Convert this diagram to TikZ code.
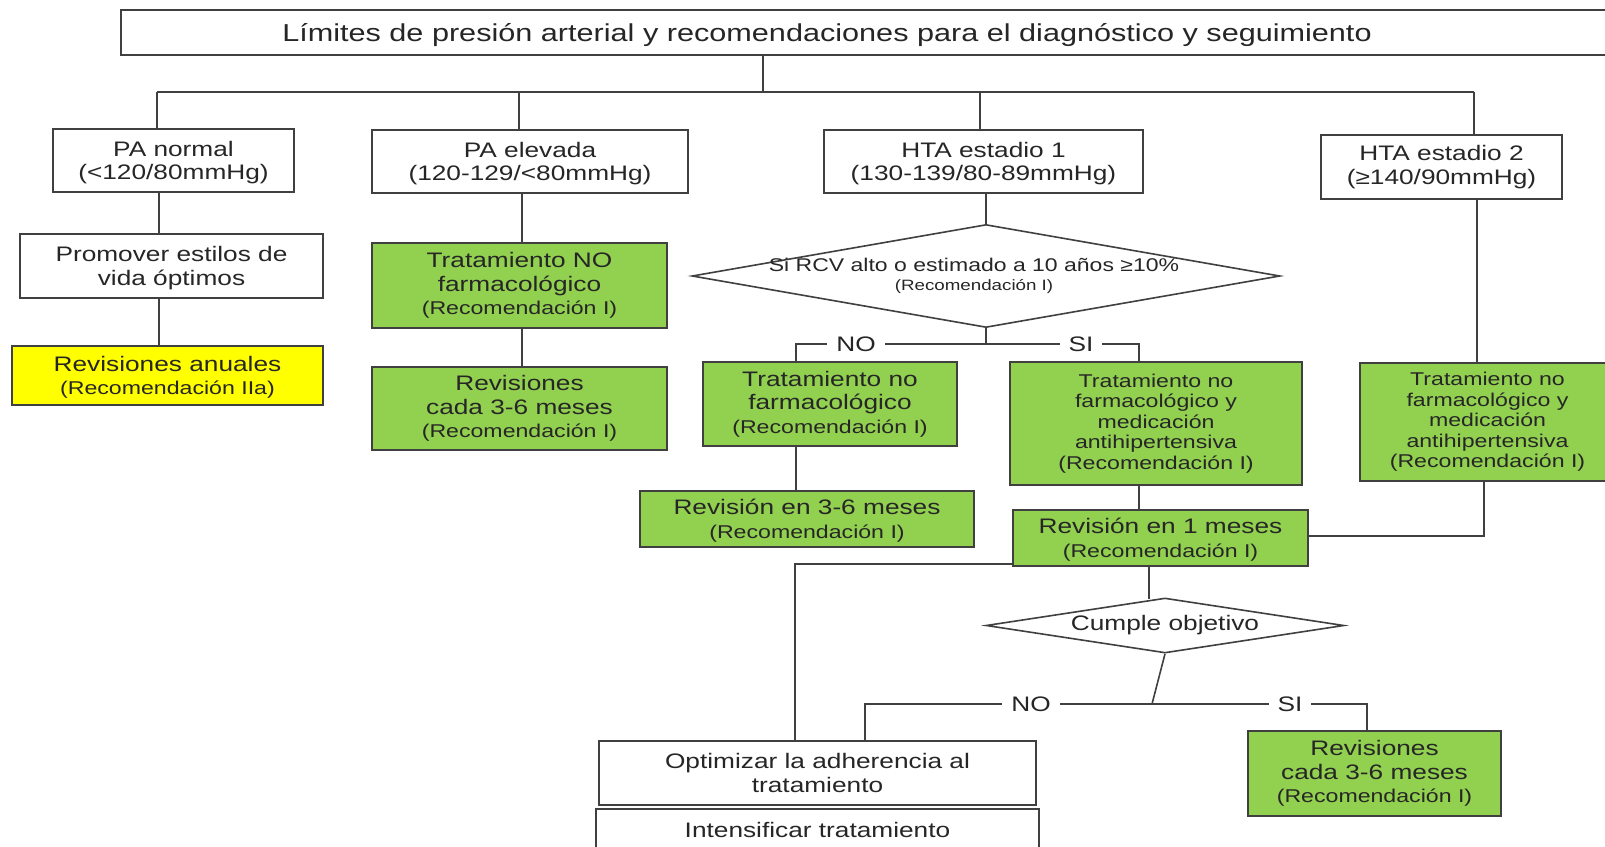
\documentclass[tikz,border=0pt]{standalone}
\usepackage{fontspec}
\setmainfont{Liberation Sans}[FakeStretch=1.25]
\usetikzlibrary{shapes.geometric}

\definecolor{boxgreen}{HTML}{92D050}
\definecolor{boxyellow}{HTML}{FFFF00}
\newcommand{\mainsize}{\fontsize{21}{23.5}\selectfont}
\newcommand{\midsize}{\fontsize{18.5}{20.5}\selectfont}
\newcommand{\recsize}{\fontsize{18.5}{21}\selectfont}

\begin{document}
\begin{tikzpicture}[x=1pt, y=-1pt,
    box/.style={draw=black!75, line width=1.6pt, fill=white, align=center, inner sep=0pt, text=black!85, font=\mainsize},
    gbox/.style={box, fill=boxgreen},
    ybox/.style={box, fill=boxyellow},
    lowtext/.style={text depth=-11pt},
    decision/.style={diamond, draw=black!75, line width=1.6pt, fill=white, inner sep=0pt},
    wire/.style={draw=black!75, line width=1.6pt},
    answer/.style={fill=white, inner xsep=9pt, inner ysep=1pt, text=black!85, font=\mainsize}]

    \useasboundingbox (0,0) rectangle (1605,846);

    % title
    \node[box, minimum width=1491, minimum height=45] (title) at (866.5,32.5) {};
    \node[text=black!85, font=\fontsize{24.5}{28}\selectfont] (titletext) at (827,35) {Límites de presión arterial y recomendaciones para el diagnóstico y seguimiento};

    % first row
    \node[box, lowtext, minimum width=241, minimum height=63] (normal) at (173.5,160.5) {PA normal\\(<120/80mmHg)};
    \node[box, lowtext, minimum width=316, minimum height=63] (elevada) at (530,161.5) {PA elevada\\(120-129/<80mmHg)};
    \node[box, lowtext, minimum width=319, minimum height=63] (hta1) at (983.5,161.5) {HTA estadio 1\\(130-139/80-89mmHg)};
    \node[box, minimum width=241, minimum height=64] (hta2) at (1441.5,167) {HTA estadio 2\\(≥140/90mmHg)};

    % PA normal / PA elevada
    \node[box, lowtext, minimum width=303, minimum height=64] (promover) at (171.5,266) {Promover estilos de\\vida óptimos};
    \node[ybox, lowtext, minimum width=311, minimum height=59] (anual) at (167.5,375.5) {Revisiones anuales\\{\recsize(Recomendación IIa)}};
    \node[gbox, minimum width=295, minimum height=85] (notrat) at (519.5,285.5) {Tratamiento NO\\farmacológico\\{\recsize(Recomendación I)}};
    \node[gbox, minimum width=295, minimum height=83] (rev36) at (519.5,408.5) {Revisiones\\cada 3-6 meses\\{\recsize(Recomendación I)}};

    % HTA estadio 1
    \node[decision, minimum width=588, minimum height=103,
        label={[align=center, text=black!85, font=\fontsize{18.4}{18.5}\selectfont, xshift=-12pt]center:Si RCV alto o estimado a 10 años ≥10\%\\{\fontsize{15}{18.5}\selectfont(Recomendación I)}}] (rcv) at (986,276) {};
    \node[gbox, minimum width=254, minimum height=84] (nofarm) at (830,404) {Tratamiento no\\farmacológico\\{\recsize(Recomendación I)}};
    \node[gbox, minimum width=292, minimum height=123, font=\midsize] (farmmed) at (1156,423.5) {Tratamiento no\\farmacológico y\\medicación\\antihipertensiva\\(Recomendación I)};
    \node[gbox, lowtext, minimum width=334, minimum height=56] (rev36b) at (807,519) {Revisión en 3-6 meses\\{\recsize(Recomendación I)}};
    \node[gbox, lowtext, minimum width=295, minimum height=56] (rev1) at (1160.5,538) {Revisión en 1 meses\\{\recsize(Recomendación I)}};

    % HTA estadio 2
    \node[gbox, minimum width=255, minimum height=118, font=\midsize] (farmmed2) at (1487.5,422) {Tratamiento no\\farmacológico y\\medicación\\antihipertensiva\\(Recomendación I)};

    % follow-up
    \node[decision, minimum width=358, minimum height=55,
        label={[text=black!85, font=\mainsize]center:Cumple objetivo}] (cumple) at (1165,625.5) {};
    \node[box, minimum width=437, minimum height=64] (optim) at (817.5,773) {Optimizar la adherencia al\\tratamiento};
    \node[box, minimum width=443, minimum height=41] (intens) at (817.5,829.5) {Intensificar tratamiento};
    \node[gbox, minimum width=253, minimum height=85] (rev36c) at (1374.5,773.5) {Revisiones\\cada 3-6 meses\\{\recsize(Recomendación I)}};

    % bus under the title
    \coordinate (top) at (763,92);
    \coordinate (d1) at (157,92);
    \coordinate (d2) at (519,92);
    \coordinate (d3) at (980,92);
    \coordinate (d4) at (1474,92);
    \draw[wire] (title.south -| top) -- (top);
    \draw[wire] (d1) -- (d4);
    \draw[wire] (d1) -- (normal.north -| d1);
    \draw[wire] (d2) -- (elevada.north -| d2);
    \draw[wire] (d3) -- (hta1.north -| d3);
    \draw[wire] (d4) -- (hta2.north -| d4);

    % columns
    \coordinate (c1) at (159,0);
    \coordinate (c2) at (522,0);
    \draw[wire] (normal.south -| c1) -- (promover.north -| c1);
    \draw[wire] (promover.south -| c1) -- (anual.north -| c1);
    \draw[wire] (elevada.south -| c2) -- (notrat.north -| c2);
    \draw[wire] (notrat.south -| c2) -- (rev36.north -| c2);
    \draw[wire] (hta1.south -| rcv.north) -- (rcv.north);

    % NO / SI after the first decision
    \coordinate (no1) at (796,344);
    \coordinate (si1) at (1139,344);
    \draw[wire] (rcv.south) -- (rcv.south |- no1);
    \draw[wire] (nofarm.north -| no1) -- (no1) -- (si1) -- (farmmed.north -| si1);
    \node[answer] (nolbl1) at (856,344) {NO};
    \node[answer] (silbl1) at (1081,344) {SI};
    \draw[wire] (nofarm.south -| no1) -- (rev36b.north -| no1);
    \draw[wire] (farmmed.south -| si1) -- (rev1.north -| si1);

    % HTA estadio 2 down to the one month review
    \coordinate (c4) at (1484,536);
    \draw[wire] (hta2.south -| 1477,0) -- (farmmed2.north -| 1477,0);
    \draw[wire] (farmmed2.south -| c4) -- (c4) -- (rev1.east |- c4);

    % one month review
    \coordinate (back) at (795,564);
    \coordinate (c5) at (1149,599);
    \draw[wire] (rev1.west |- back) -- (back) -- (optim.north -| back);
    \draw[wire] (rev1.south -| c5) -- (c5);

    % NO / SI after the second decision
    \coordinate (j2) at (1152,704);
    \coordinate (no2) at (865,704);
    \coordinate (si2) at (1367,704);
    \draw[wire] (cumple.south) -- (j2);
    \draw[wire] (optim.north -| no2) -- (no2) -- (si2) -- (rev36c.north -| si2);
    \node[answer] (nolbl2) at (1031,704) {NO};
    \node[answer] (silbl2) at (1290,704) {SI};

\end{tikzpicture}
\end{document}
